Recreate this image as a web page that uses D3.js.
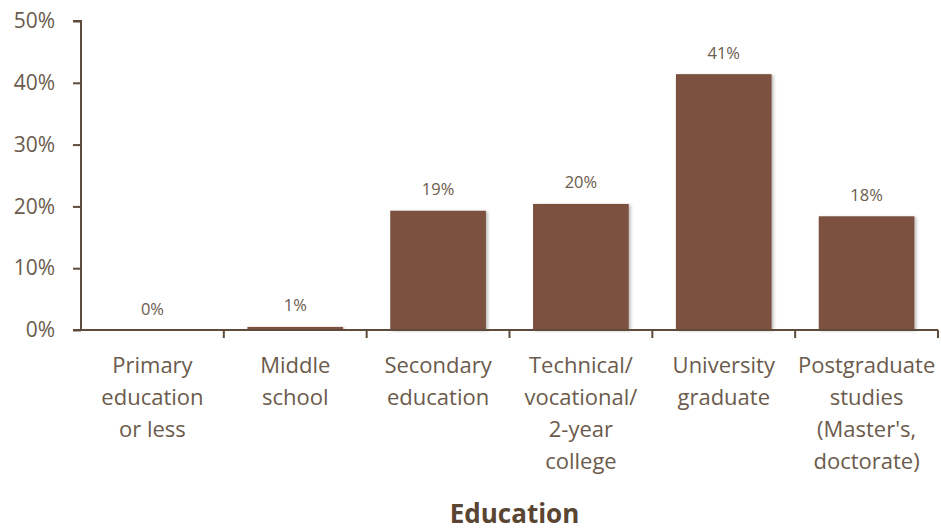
<!DOCTYPE html>
<html>
<head>
<meta charset="utf-8">
<script src="https://cdn.jsdelivr.net/npm/d3@7"></script>
<style>
  html, body { margin: 0; padding: 0; background: #fff; }
  svg { display: block; }
  text { font-family: "Open Sans", "Noto Sans", sans-serif; }
</style>
</head>
<body>
<svg id="chart" width="941" height="531"></svg>
<script>
// Share of respondents by highest education level
const categories = [
  ["Primary", "education", "or less"],
  ["Middle", "school"],
  ["Secondary", "education"],
  ["Technical/", "vocational/", "2-year", "college"],
  ["University", "graduate"],
  ["Postgraduate", "studies", "(Master's,", "doctorate)"]
];
const values = [0.0, 0.005, 0.193, 0.204, 0.414, 0.184];
const yTicks = [0, 0.1, 0.2, 0.3, 0.4, 0.5];
const axisTitle = "Education";

const barColor = "#7b5140";
const axisColor = "#5e4b3a";
const textColor = "#6b5b4c";

const svg = d3.select("#chart");
const margin = { left: 81, right: 3, top: 21, bottom: 201 };
const W = 941, H = 531;

const x = d3.scaleBand()
  .domain(d3.range(categories.length))
  .range([margin.left, W - margin.right])
  .paddingInner(0.33)
  .paddingOuter(0.165);

const y = d3.scaleLinear()
  .domain([0, 0.5])
  .range([H - margin.bottom, margin.top]);

const defs = svg.append("defs");
const shadow = defs.append("filter").attr("id", "barShadow")
  .attr("x", "-10%").attr("y", "-10%").attr("width", "130%").attr("height", "130%");
shadow.append("feDropShadow")
  .attr("dx", 2).attr("dy", 1).attr("stdDeviation", 1.5)
  .attr("flood-color", "#000").attr("flood-opacity", 0.25);

// bars
svg.append("g").selectAll("rect")
  .data(values)
  .join("rect")
  .attr("x", (d, i) => x(i))
  .attr("width", x.bandwidth())
  .attr("y", d => y(d))
  .attr("height", d => y(0) - y(d))
  .attr("fill", barColor)
  .attr("filter", "url(#barShadow)");

// value labels
const fmt = d3.format(".0%");
svg.append("g").selectAll("text")
  .data(values)
  .join("text")
  .attr("x", (d, i) => x(i) + x.bandwidth() / 2)
  .attr("y", d => y(d) - 15.5)
  .attr("text-anchor", "middle")
  .attr("font-size", 16.5)
  .attr("fill", textColor)
  .text(d => fmt(d));

// y axis
const yAxis = d3.axisLeft(y)
  .tickValues(yTicks)
  .tickFormat(d3.format(".0%"))
  .tickSize(8)
  .tickPadding(18);
const gy = svg.append("g")
  .attr("transform", `translate(${margin.left},0)`)
  .call(yAxis);
gy.select(".domain").attr("stroke", axisColor).attr("stroke-width", 2)
  .attr("d", `M-8,${y(0.5)}H0V${y(0)}`);
gy.selectAll(".tick line").attr("stroke", axisColor).attr("stroke-width", 2);
gy.selectAll(".tick text")
  .attr("font-size", 21)
  .attr("fill", textColor)
  .attr("font-family", "'Open Sans', sans-serif");

// x axis with ticks at category boundaries
const bounds = d3.range(categories.length + 1).map(i =>
  margin.left + i * (W - margin.right - margin.left) / categories.length);
const gx = svg.append("g");
gx.append("line")
  .attr("x1", margin.left - 8).attr("x2", W - margin.right)
  .attr("y1", y(0)).attr("y2", y(0))
  .attr("stroke", axisColor).attr("stroke-width", 2);
gx.selectAll("line.tk")
  .data(bounds.slice(1))
  .join("line")
  .attr("class", "tk")
  .attr("x1", d => d).attr("x2", d => d)
  .attr("y1", y(0)).attr("y2", y(0) + 8)
  .attr("stroke", axisColor).attr("stroke-width", 2);

// category labels
const lab = svg.append("g").selectAll("text")
  .data(categories)
  .join("text")
  .attr("text-anchor", "middle")
  .attr("font-size", 22)
  .attr("fill", textColor)
  .attr("transform", (d, i) => `translate(${x(i) + x.bandwidth() / 2},${y(0) + 43})`);
lab.selectAll("tspan")
  .data(d => d)
  .join("tspan")
  .attr("x", 0)
  .attr("y", (d, j) => j * 32)
  .text(d => d);

// axis title
svg.append("text")
  .attr("x", (margin.left + W - margin.right) / 2 + 5)
  .attr("y", 523)
  .attr("text-anchor", "middle")
  .attr("font-size", 26)
  .attr("font-weight", "bold")
  .attr("fill", "#5a4532")
  .text(axisTitle);
</script>
</body>
</html>
